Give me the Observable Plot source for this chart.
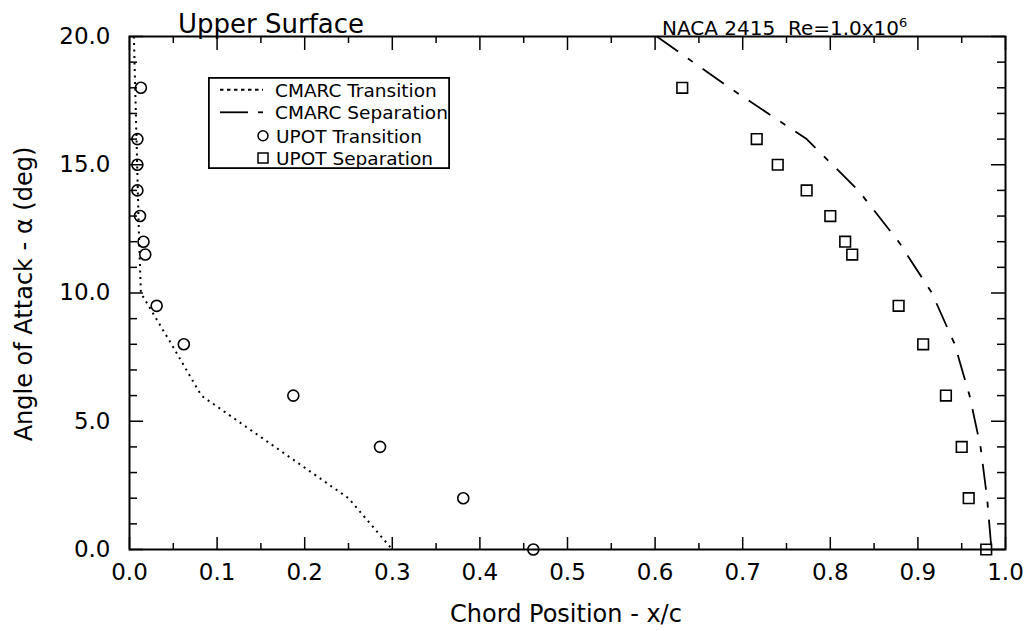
<!DOCTYPE html>
<html>
<head>
<meta charset="utf-8">
<script src="https://cdn.jsdelivr.net/npm/d3@7"></script>
<script src="https://cdn.jsdelivr.net/npm/@observablehq/plot@0.6"></script>
<style>
  html, body { margin: 0; padding: 0; background: white; }
  #wrap { position: relative; width: 1028px; height: 631px; font-family: "DejaVu Sans", sans-serif; color: black; }
  #wrap svg.plot { position: absolute; left: 0; top: 0; }
  .txt { position: absolute; white-space: pre; line-height: 1; }
</style>
</head>
<body>
<div id="wrap"></div>
<script>
// ---- data ----
const cmarcTransAlpha = [20, 16, 12, 10, 8, 6, 4, 2, 0];
const cmarcTransX     = [0.005, 0.008, 0.011, 0.013, 0.048, 0.082, 0.166, 0.250, 0.300];

const cmarcSepAlpha = [20, 18, 16, 14, 12, 10, 8, 6, 4, 2, 0];
const cmarcSepX     = [0.602, 0.685, 0.773, 0.832, 0.878, 0.916, 0.942, 0.959, 0.9715, 0.979, 0.984];

const upotTransAlpha = [18, 16, 15, 14, 13, 12, 11.5, 9.5, 8, 6, 4, 2, 0];
const upotTransX     = [0.013, 0.009, 0.009, 0.009, 0.012, 0.016, 0.018, 0.031, 0.062, 0.187, 0.286, 0.381, 0.461];

const upotSepAlpha = [18, 16, 15, 14, 13, 12, 11.5, 9.5, 8, 6, 4, 2, 0];
const upotSepX     = [0.631, 0.716, 0.740, 0.773, 0.800, 0.817, 0.825, 0.878, 0.906, 0.932, 0.950, 0.958, 0.978];

const xTicks = [0, 0.1, 0.2, 0.3, 0.4, 0.5, 0.6, 0.7, 0.8, 0.9, 1.0];
const xMinor = [0.05, 0.15, 0.25, 0.35, 0.45, 0.55, 0.65, 0.75, 0.85, 0.95];
const yTicks = [0, 5, 10, 15, 20];
const yMinor = [1, 2, 3, 4, 6, 7, 8, 9, 11, 12, 13, 14, 16, 17, 18, 19];

const titleText = "Upper Surface";
const subtitleText = "NACA 2415  Re=1.0x10";
const subtitleSup = "6";
const xLabel = "Chord Position - x/c";
const yLabel = "Angle of Attack - \u03b1 (deg)";
const legendLabels = ["CMARC Transition", "CMARC Separation", "UPOT Transition", "UPOT Separation"];

// ---- layout ----
const W = 1028, H = 631;
const mL = 129, mR = 23, mT = 36, mB = 82;
const innerW = W - mL - mR, innerH = H - mT - mB;

const idx = a => a.map((_, i) => i);

const chart = Plot.plot({
  width: W, height: H,
  marginLeft: mL, marginRight: mR, marginTop: mT, marginBottom: mB,
  style: {fontFamily: "DejaVu Sans", fontSize: "23px", color: "black", background: "white"},
  x: {domain: [0, 1]},
  y: {domain: [0, 20]},
  marks: [
    Plot.tickX(xTicks, {x: d => d, insetTop: innerH - 12, stroke: "black", strokeWidth: 1.5}),
    Plot.tickX(xTicks, {x: d => d, insetBottom: innerH - 14, stroke: "black", strokeWidth: 1.5}),
    Plot.tickX(xMinor, {x: d => d, insetTop: innerH - 6, stroke: "black", strokeWidth: 1.5}),
    Plot.tickX(xMinor, {x: d => d, insetBottom: innerH - 7, stroke: "black", strokeWidth: 1.5}),
    Plot.tickY(yTicks, {y: d => d, insetRight: innerW - 14, stroke: "black", strokeWidth: 1.5}),
    Plot.tickY(yTicks, {y: d => d, insetLeft: innerW - 14, stroke: "black", strokeWidth: 1.5}),
    Plot.tickY(yMinor, {y: d => d, insetRight: innerW - 8, stroke: "black", strokeWidth: 1.5}),
    Plot.tickY(yMinor, {y: d => d, insetLeft: innerW - 8, stroke: "black", strokeWidth: 1.5}),
    Plot.frame({stroke: "black", strokeWidth: 2}),
    Plot.axisX(xTicks, {tickSize: 0, tickPadding: 14, tickFormat: d3.format(".1f"), label: null}),
    Plot.axisY(yTicks, {tickSize: 0, tickPadding: 19, tickFormat: d3.format(".1f"), label: null}),
    Plot.line(idx(cmarcTransAlpha), {x: i => cmarcTransX[i], y: i => cmarcTransAlpha[i],
      stroke: "black", strokeWidth: 2, strokeDasharray: "2,4.5", strokeLinecap: "butt"}),
    Plot.line(idx(cmarcSepAlpha), {x: i => cmarcSepX[i], y: i => cmarcSepAlpha[i],
      stroke: "black", strokeWidth: 1.8, strokeDasharray: "26,12,6,12", strokeLinecap: "butt"}),
    Plot.dot(idx(upotTransAlpha), {x: i => upotTransX[i], y: i => upotTransAlpha[i],
      r: 5.5, stroke: "black", strokeWidth: 1.6, fill: "none"}),
    Plot.dot(idx(upotSepAlpha), {x: i => upotSepX[i], y: i => upotSepAlpha[i],
      symbol: "square", r: 6, stroke: "black", strokeWidth: 1.6, fill: "none"})
  ]
});
chart.classList.add("plot");
const wrap = document.getElementById("wrap");
wrap.appendChild(chart);

function addText(text, left, baseline, fs, extra) {
  const d = document.createElement("div");
  d.className = "txt";
  d.style.fontSize = fs + "px";
  d.style.left = left + "px";
  d.style.top = (baseline - 0.846 * fs) + "px";
  d.textContent = text;
  if (extra) extra(d);
  wrap.appendChild(d);
  return d;
}

// title & subtitle
addText(titleText, 178, 32.7, 26);
addText(subtitleText, 662, 32.7, 20, d => {
  const s = document.createElement("span");
  s.textContent = subtitleSup;
  s.style.fontSize = "13px";
  s.style.verticalAlign = "8px";
  d.appendChild(s);
});

// x axis title (centered)
addText(xLabel, 0, 622, 24, d => { d.style.width = "1132px"; d.style.textAlign = "center"; });

// y axis title (rotated)
{
  const fs = 24;
  const d = document.createElement("div");
  d.className = "txt";
  d.style.fontSize = fs + "px";
  d.style.width = "400px";
  d.style.textAlign = "center";
  d.style.height = fs + "px";
  const cx = 32 - (0.846 - 0.5) * fs, cy = 293.5;
  d.style.left = (cx - 200) + "px";
  d.style.top = (cy - fs / 2) + "px";
  d.style.transform = "rotate(-90deg)";
  d.textContent = yLabel;
  wrap.appendChild(d);
}

// legend box
{
  const lx = 208, ly = 77, lw = 242, lh = 92;
  const ns = "http://www.w3.org/2000/svg";
  const svg = document.createElementNS(ns, "svg");
  svg.setAttribute("width", lw);
  svg.setAttribute("height", lh);
  svg.style.position = "absolute";
  svg.style.left = lx + "px";
  svg.style.top = ly + "px";
  svg.style.fontFamily = "DejaVu Sans";
  const el = (tag, attrs) => { const e = document.createElementNS(ns, tag); for (const k in attrs) e.setAttribute(k, attrs[k]); svg.appendChild(e); return e; };
  el("rect", {x: 0.9, y: 0.9, width: lw - 1.8, height: lh - 1.8, fill: "white", stroke: "black", "stroke-width": 1.8});
  const base = [19.7, 42.3, 65.7, 88];
  const mid = base.map(b => b - 7);
  el("line", {x1: 12, x2: 55, y1: mid[0], y2: mid[0], stroke: "black", "stroke-width": 2, "stroke-dasharray": "3.5,3.5"});
  el("line", {x1: 12, x2: 40, y1: mid[1], y2: mid[1], stroke: "black", "stroke-width": 1.8});
  el("line", {x1: 50, x2: 55, y1: mid[1], y2: mid[1], stroke: "black", "stroke-width": 1.8});
  el("circle", {cx: 55, cy: mid[2], r: 5, fill: "none", stroke: "black", "stroke-width": 1.5});
  el("rect", {x: 50, y: mid[3] - 5, width: 10, height: 10, fill: "none", stroke: "black", "stroke-width": 1.5});
  const tx = [67, 67, 68, 68];
  legendLabels.forEach((t, i) => {
    const e = el("text", {x: tx[i], y: base[i], "font-size": 18.5, fill: "black"});
    e.textContent = t;
  });
  wrap.appendChild(svg);
}
</script>
</body>
</html>
